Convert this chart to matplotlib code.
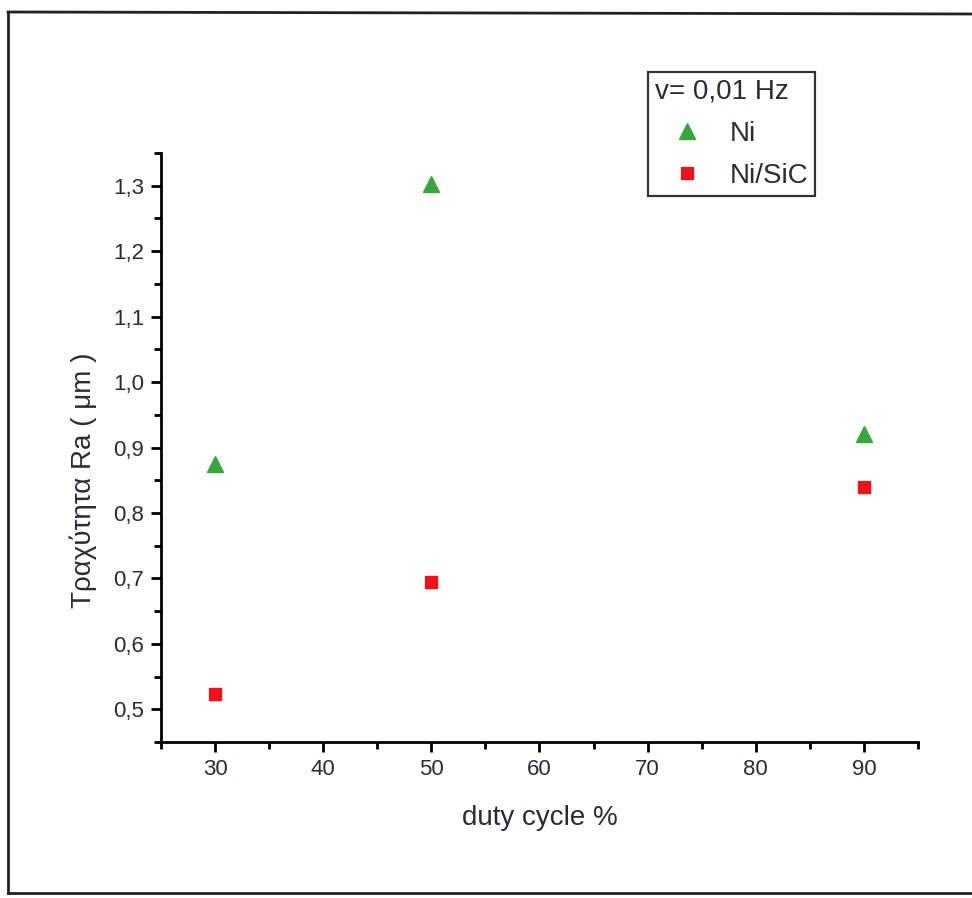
"""Roughness Ra vs duty cycle for Ni and Ni/SiC coatings (v = 0,01 Hz)."""

import matplotlib

matplotlib.use("Agg")

import matplotlib.pyplot as plt
from matplotlib.lines import Line2D
from matplotlib.ticker import FuncFormatter, MultipleLocator

duty_cycle = [30, 50, 90]
ra_ni = [0.875, 1.303, 0.921]
ra_ni_sic = [0.523, 0.694, 0.839]

x_ticks = [30, 40, 50, 60, 70, 80, 90]
y_ticks = [0.5, 0.6, 0.7, 0.8, 0.9, 1.0, 1.1, 1.2, 1.3]

plt.rcParams["font.family"] = ["Liberation Sans", "DejaVu Sans"]
TEXT = "#2b2b38"

fig = plt.figure(figsize=(9.72, 8.98), dpi=100)
ax = fig.add_axes([0.1656, 0.1737, 0.7788, 0.6559])

ax.plot(duty_cycle, ra_ni, linestyle="none", marker="^", markersize=11.5,
        color="#3aa73e", label="Ni")
ax.plot(duty_cycle, ra_ni_sic, linestyle="none", marker="s", markersize=8.5,
        color="#e8141e", label="Ni/SiC")

ax.set_xlim(25, 95)
ax.set_ylim(0.45, 1.35)
ax.set_xticks(x_ticks)
ax.set_yticks(y_ticks)
ax.xaxis.set_minor_locator(MultipleLocator(5))
ax.yaxis.set_minor_locator(MultipleLocator(0.05))
ax.yaxis.set_major_formatter(FuncFormatter(lambda v, _: f"{v:.1f}".replace(".", ",")))

for side in ("top", "right"):
    ax.spines[side].set_visible(False)
for side in ("left", "bottom"):
    ax.spines[side].set_linewidth(2.0)
ax.tick_params(which="major", direction="out", length=7, width=2.0,
               labelsize=16, labelcolor=TEXT, pad=5)
ax.tick_params(which="minor", direction="out", length=5, width=2.0)

ax.set_xlabel("duty cycle %", fontsize=20, color=TEXT, labelpad=18)
ax.set_ylabel("Τραχύτητα Ra ( μm )", fontsize=20, color=TEXT)
ax.yaxis.set_label_coords(-0.085, 0.445)

leg = ax.legend(title="v= 0,01 Hz", loc="upper left",
                bbox_to_anchor=(0.643, 1.1375), fontsize=20, title_fontsize=20,
                frameon=True, fancybox=False, alignment="left",
                handletextpad=0.4, borderpad=0.25, labelspacing=0.58,
                handlelength=2.3, borderaxespad=0)
leg.get_frame().set_edgecolor("black")
leg.get_frame().set_linewidth(1.6)
for t in leg.get_texts():
    t.set_color(TEXT)
leg.get_title().set_color(TEXT)

# scanned page frame around the figure
frame = dict(color="#222222", linewidth=2.0, transform=fig.transFigure)
fig.add_artist(Line2D([8 / 972, 8 / 972], [1 - 12 / 898, 1 - 893 / 898], **frame))
fig.add_artist(Line2D([8 / 972, 1.0], [1 - 12 / 898, 1 - 14 / 898], **frame))
fig.add_artist(Line2D([8 / 972, 1.0], [1 - 893 / 898, 1 - 893 / 898], **frame))

fig.savefig("out.png", dpi=100)
